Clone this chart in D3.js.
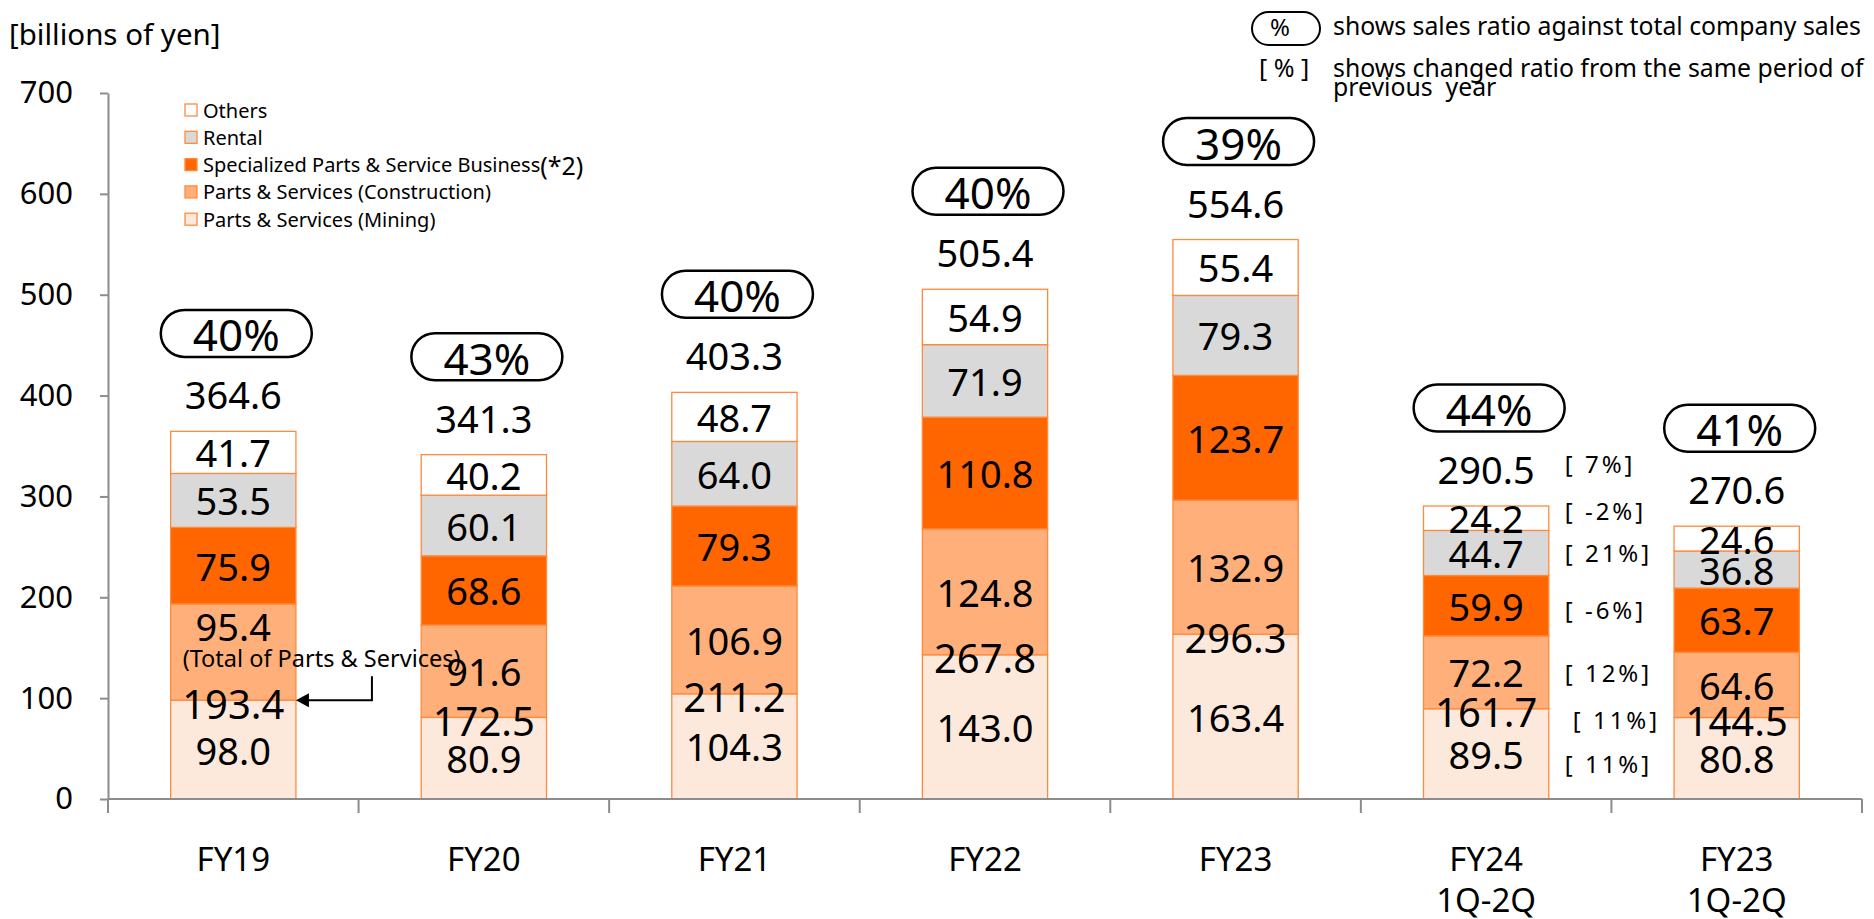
<!DOCTYPE html>
<html>
<head>
<meta charset="utf-8">
<script src="https://cdn.jsdelivr.net/npm/d3@7/dist/d3.min.js"></script>
<style>
  html, body { margin: 0; padding: 0; background: #fff; }
  svg { display: block; }
  text { font-family: "Noto Sans", "Open Sans", sans-serif; fill: #000; }
</style>
</head>
<body>
<svg id="chart" width="1874" height="919"></svg>
<script>
// ---- data ----
const categories = ["FY19", "FY20", "FY21", "FY22", "FY23", "FY24 1Q-2Q", "FY23 1Q-2Q"];
const categoryLines = [["FY19"], ["FY20"], ["FY21"], ["FY22"], ["FY23"], ["FY24", "1Q-2Q"], ["FY23", "1Q-2Q"]];
const mining       = [98.0, 80.9, 104.3, 143.0, 163.4, 89.5, 80.8];
const construction = [95.4, 91.6, 106.9, 124.8, 132.9, 72.2, 64.6];
const specialized  = [75.9, 68.6, 79.3, 110.8, 123.7, 59.9, 63.7];
const rental       = [53.5, 60.1, 64.0, 71.9, 79.3, 44.7, 36.8];
const others       = [41.7, 40.2, 48.7, 54.9, 55.4, 24.2, 24.6];
const totals       = [364.6, 341.3, 403.3, 505.4, 554.6, 290.5, 270.6];
const partsTotals  = [193.4, 172.5, 211.2, 267.8, 296.3, 161.7, 144.5];
const salesRatios  = ["40%", "43%", "40%", "40%", "39%", "44%", "41%"];
// changed ratio vs same period of previous year (FY24 1Q-2Q)
const changeTotal = "7%";
const changeBySeries = { others: "-2%", rental: "21%", specialized: "-6%", construction: "12%", mining: "11%" };
const changeParts = "11%";
const yTicks = [0, 100, 200, 300, 400, 500, 600, 700];

const seriesKeys   = ["mining", "construction", "specialized", "rental", "others"];
const seriesValues = { mining, construction, specialized, rental, others };
const seriesNames  = {
  others: "Others",
  rental: "Rental",
  specialized: "Specialized Parts & Service Business",
  construction: "Parts & Services (Construction)",
  mining: "Parts & Services (Mining)"
};
const seriesColors = {
  mining: "#FDE9DB",
  construction: "#FFAF7A",
  specialized: "#FF6600",
  rental: "#D9D9D9",
  others: "#FFFFFF"
};
const outline = "#FF8A3D";

// ---- layout ----
const svg = d3.select("#chart");
const y = d3.scaleLinear().domain([0, 700]).range([799, 93]);
const x = d3.scaleBand().domain(categories).range([108, 1862]).paddingInner(0.5).paddingOuter(0.25);
const bw = x.bandwidth();

const rows = categories.map((c, i) => {
  const r = { cat: c };
  seriesKeys.forEach(k => r[k] = seriesValues[k][i]);
  return r;
});
const stacked = d3.stack().keys(seriesKeys)(rows);

// unit label
svg.append("text").attr("x", 9).attr("y", 45).attr("font-size", 29.5).text("[billions of yen]");

// y axis
const yAxis = svg.append("g").attr("transform", `translate(${x.range()[0]},0)`)
  .call(d3.axisLeft(y).tickValues(yTicks).tickSize(8).tickPadding(27).tickSizeOuter(0));
yAxis.select(".domain").attr("stroke", "#8c8c8c").attr("stroke-width", 2);
yAxis.selectAll(".tick line").attr("stroke", "#8c8c8c").attr("stroke-width", 2);
yAxis.selectAll(".tick text").attr("font-size", 31).attr("font-family", "Noto Sans").attr("fill", "#000");

// bars
const gBars = svg.append("g");
stacked.forEach(layer => {
  gBars.selectAll(null).data(layer).enter().append("rect")
    .attr("x", d => x(d.data.cat))
    .attr("y", d => y(d[1]))
    .attr("width", bw)
    .attr("height", d => y(d[0]) - y(d[1]))
    .attr("fill", seriesColors[layer.key])
    .attr("stroke", outline)
    .attr("stroke-width", 1.3);
});

// x axis
const x0 = x.range()[0], x1 = x.range()[1];
svg.append("line").attr("x1", x0).attr("x2", x1).attr("y1", y(0)).attr("y2", y(0))
  .attr("stroke", "#8c8c8c").attr("stroke-width", 2);
const boundaries = d3.range(categories.length + 1).map(i => x0 + i * x.step());
svg.selectAll(null).data(boundaries).enter().append("line")
  .attr("x1", d => d).attr("x2", d => d).attr("y1", y(0)).attr("y2", y(0) + 14)
  .attr("stroke", "#8c8c8c").attr("stroke-width", 2);

// category labels
categoryLines.forEach((lines, i) => {
  const cx = x(categories[i]) + bw / 2;
  lines.forEach((ln, j) => {
    svg.append("text").attr("x", cx).attr("y", 858 + j * 41)
      .attr("text-anchor", "middle").attr("dominant-baseline", "central")
      .attr("font-size", 33).text(ln);
  });
});

// segment labels
const labelY = {};
stacked.forEach(layer => {
  layer.forEach((d, i) => {
    let cy = (y(d[0]) + y(d[1])) / 2;
    if (layer.key === "construction" && i === 0) cy -= 26; // make room for annotation
    labelY[layer.key + i] = cy;
    svg.append("text").attr("x", x(d.data.cat) + bw / 2).attr("y", cy)
      .attr("text-anchor", "middle").attr("dominant-baseline", "central")
      .attr("font-size", 38).text(seriesValues[layer.key][i].toFixed(1));
  });
});

// total of parts & services labels (at mining/construction boundary)
partsTotals.forEach((v, i) => {
  const cy = y(mining[i]) + 3;
  labelY["parts" + i] = cy;
  svg.append("text").attr("x", x(categories[i]) + bw / 2).attr("y", cy)
    .attr("text-anchor", "middle").attr("dominant-baseline", "central")
    .attr("font-family", "DejaVu Sans").attr("font-size", 40).text(v.toFixed(1));
});

// totals and sales-ratio pills
totals.forEach((v, i) => {
  const cx = x(categories[i]) + bw / 2;
  const top = y(d3.sum(seriesKeys, k => seriesValues[k][i]));
  labelY["total" + i] = top - 37;
  svg.append("text").attr("x", cx).attr("y", top - 37)
    .attr("text-anchor", "middle").attr("dominant-baseline", "central")
    .attr("font-size", 38).text(v.toFixed(1));
  const pw = 151, ph = 47, pcy = top - 98;
  svg.append("rect").attr("x", cx - pw / 2 + 3).attr("y", pcy - ph / 2)
    .attr("width", pw).attr("height", ph).attr("rx", ph / 2).attr("ry", ph / 2)
    .attr("fill", "#fff").attr("stroke", "#000").attr("stroke-width", 2.5);
  svg.append("text").attr("x", cx + 3).attr("y", pcy + 1)
    .attr("text-anchor", "middle").attr("dominant-baseline", "central")
    .attr("font-size", 44).text(salesRatios[i]);
});

// changed ratio annotations for FY24 1Q-2Q
(function () {
  const i = 5;
  const ax = x(categories[i]) + bw + 16;
  const items = [
    { t: changeTotal, cy: labelY["total" + i] - 6, dx: 0 },
    { t: changeBySeries.others, cy: labelY["others" + i] - 8, dx: 0 },
    { t: changeBySeries.rental, cy: labelY["rental" + i], dx: 0 },
    { t: changeBySeries.specialized, cy: labelY["specialized" + i] + 4, dx: 0 },
    { t: changeBySeries.construction, cy: labelY["construction" + i], dx: 0 },
    { t: changeParts, cy: labelY["parts" + i] + 8, dx: 8 },
    { t: changeBySeries.mining, cy: labelY["mining" + i] + 10, dx: 0 }
  ];
  items.forEach(it => {
    svg.append("text").attr("x", ax + it.dx).attr("y", it.cy)
      .attr("dominant-baseline", "central").attr("font-family", "DejaVu Sans")
      .attr("font-size", 24).attr("letter-spacing", 3)
      .attr("xml:space", "preserve").text("[ " + it.t + "]");
  });
})();

// annotation: Total of Parts & Services (FY19)
(function () {
  const tipX = x(categories[0]) + bw, tipY = y(mining[0]);
  const vx = tipX + 76;
  svg.append("path").attr("d", `M${vx},${tipY - 24} V${tipY} H${tipX + 10}`)
    .attr("fill", "none").attr("stroke", "#000").attr("stroke-width", 2);
  svg.append("path").attr("d", `M${tipX},${tipY} L${tipX + 13},${tipY - 7} L${tipX + 13},${tipY + 7} Z`)
    .attr("fill", "#000");
  svg.append("text").attr("x", x(categories[0]) + 12).attr("y", tipY - 33)
    .attr("font-family", "Liberation Sans").attr("font-size", 23.5)
    .text("(Total of Parts & Services)");
})();

// legend
const legendOrder = ["others", "rental", "specialized", "construction", "mining"];
legendOrder.forEach((k, j) => {
  const ly = 110 + j * 27.3;
  svg.append("rect").attr("x", 185).attr("y", ly - 6).attr("width", 12).attr("height", 12)
    .attr("fill", seriesColors[k]).attr("stroke", outline).attr("stroke-width", 1.3);
  const t = svg.append("text").attr("x", 203).attr("y", ly)
    .attr("dominant-baseline", "central").attr("font-size", 20).text(seriesNames[k]);
  if (k === "specialized") t.append("tspan").attr("font-size", 25).text("(*2)");
});

// notes top-right
svg.append("rect").attr("x", 1252).attr("y", 12).attr("width", 68).attr("height", 33)
  .attr("rx", 16.5).attr("fill", "#fff").attr("stroke", "#000").attr("stroke-width", 2);
svg.append("text").attr("x", 1280).attr("y", 26).attr("text-anchor", "middle")
  .attr("dominant-baseline", "central").attr("font-size", 24).text("%");
svg.append("text").attr("x", 1333).attr("y", 25).attr("dominant-baseline", "central")
  .attr("font-size", 24.8).text("shows sales ratio against total company sales");
svg.append("text").attr("x", 1259).attr("y", 67).attr("dominant-baseline", "central")
  .attr("font-size", 25).attr("xml:space", "preserve").text("[ % ]");
svg.append("text").attr("x", 1333).attr("y", 67).attr("dominant-baseline", "central")
  .attr("font-size", 24.8).text("shows changed ratio from the same period of");
svg.append("text").attr("x", 1333).attr("y", 86).attr("dominant-baseline", "central")
  .attr("font-size", 24.8).attr("xml:space", "preserve").text("previous  year");
</script>
</body>
</html>
